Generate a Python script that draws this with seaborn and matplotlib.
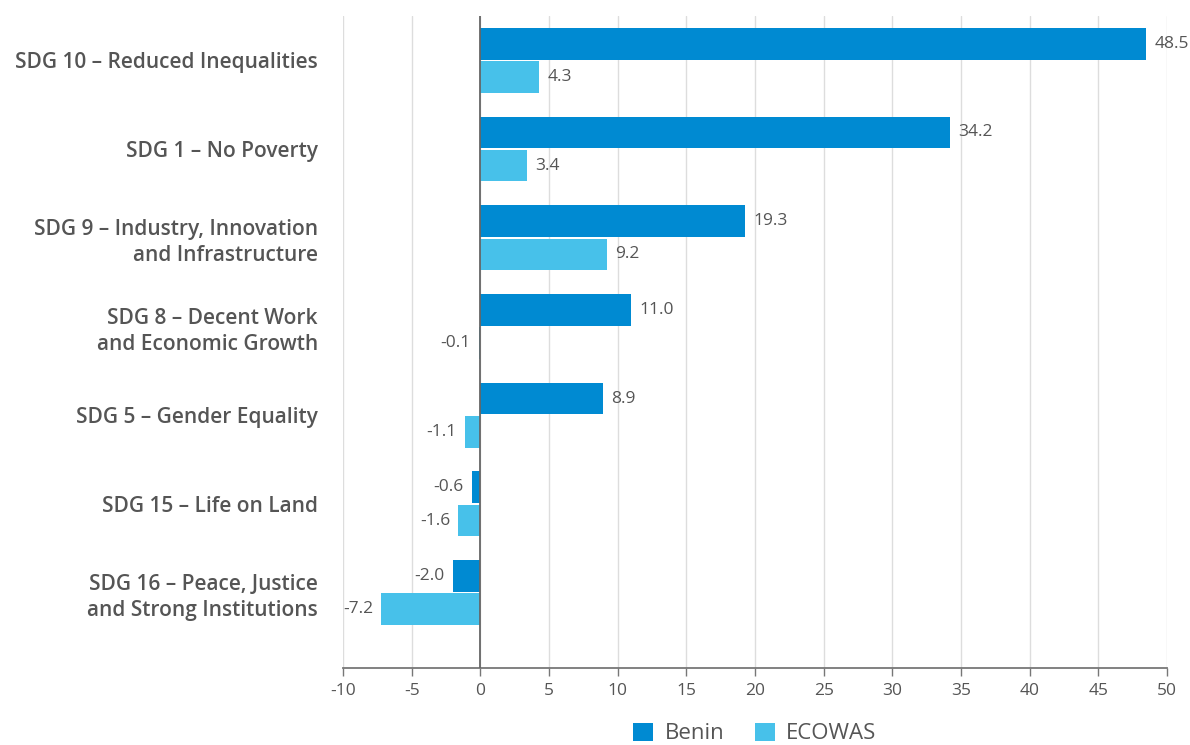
import matplotlib
matplotlib.use("Agg")
import matplotlib.pyplot as plt
from matplotlib.patches import Patch
import seaborn as sns
import pandas as pd

# SDG score changes, Benin vs. ECOWAS average
categories = [
    "SDG 10 – Reduced Inequalities",
    "SDG 1 – No Poverty",
    "SDG 9 – Industry, Innovation\nand Infrastructure",
    "SDG 8 – Decent Work\nand Economic Growth",
    "SDG 5 – Gender Equality",
    "SDG 15 – Life on Land",
    "SDG 16 – Peace, Justice\nand Strong Institutions",
]
benin = [48.5, 34.2, 19.3, 11.0, 8.9, -0.6, -2.0]
ecowas = [4.3, 3.4, 9.2, -0.1, -1.1, -1.6, -7.2]
series = ["Benin", "ECOWAS"]
colors = ["#008AD2", "#47C1EA"]
x_ticks = list(range(-10, 51, 5))

df = pd.DataFrame({
    "SDG": categories * 2,
    "Region": [series[0]] * len(categories) + [series[1]] * len(categories),
    "Change": benin + ecowas,
})

sns.set_theme(style="white")
plt.rcParams["font.family"] = ["Open Sans", "DejaVu Sans"]

fig = plt.figure(figsize=(11.9, 7.45), dpi=100)
ax = fig.add_axes([343 / 1190, 1 - 668 / 745, (1167 - 343) / 1190, (668 - 16) / 745])

sns.barplot(
    data=df, y="SDG", x="Change", hue="Region", order=categories,
    hue_order=series, palette=colors, orient="h", width=0.75, gap=0.05,
    saturation=1, errorbar=None, legend=False, linewidth=0, ax=ax,
)

for cont in ax.containers:
    ax.bar_label(cont, fmt="%.1f", padding=6, fontsize=12.5, color="#555555")

ax.set_xlim(-10, 50)
ax.set_ylim(6.85, -0.5)
ax.set_xticks(x_ticks)
ax.set_xticklabels([str(t) for t in x_ticks], fontsize=12.5, color="#555555")
ax.set_yticks(range(len(categories)))
ax.set_yticklabels(categories, fontsize=15, fontweight="semibold", color="#555555",
                   linespacing=1.3)
ax.set_xlabel("")
ax.set_ylabel("")
ax.grid(axis="x", color="#dddddd", linewidth=1)
ax.grid(axis="y", visible=False)
ax.set_axisbelow(True)
ax.axvline(0, color="#666666", linewidth=1.3, zorder=3)

for side in ["left", "right", "top"]:
    ax.spines[side].set_visible(False)
ax.spines["bottom"].set_color("#777777")
ax.spines["bottom"].set_linewidth(1.3)
ax.tick_params(axis="x", length=6, width=1, color="#777777", pad=5, bottom=True)
ax.tick_params(axis="y", length=0, pad=18)

handles = [Patch(facecolor=c, edgecolor="none", label=s) for c, s in zip(colors, series)]
ax.legend(
    handles=handles, loc="upper center", bbox_to_anchor=(0.5, -0.07),
    ncol=2, frameon=False, fontsize=16, handlelength=0.9, handleheight=0.9,
    columnspacing=1.4, handletextpad=0.5, labelcolor="#555555",
    borderaxespad=0,
)

fig.savefig("out.png", dpi=100)
